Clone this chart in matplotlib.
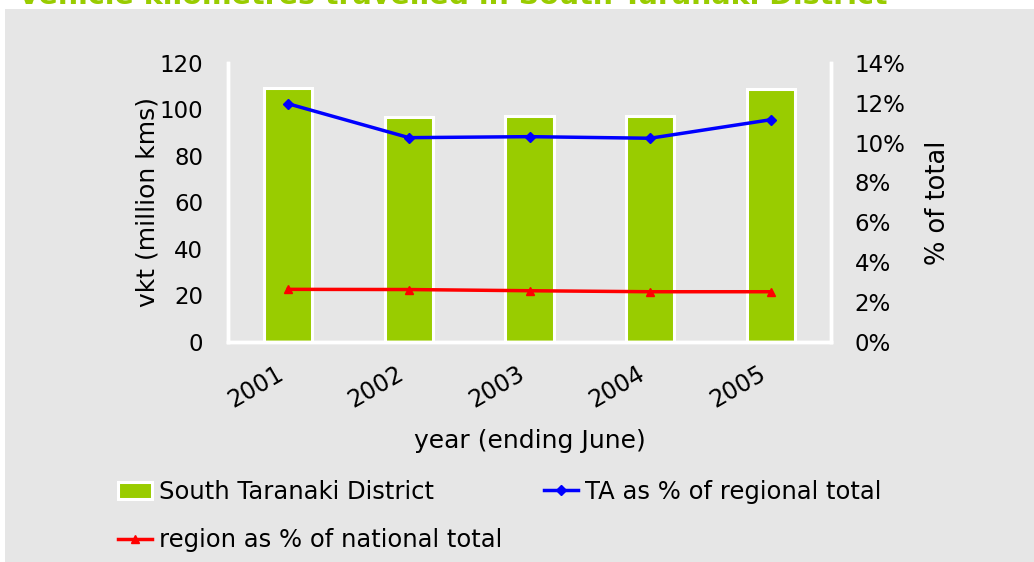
import numpy as np
import matplotlib.pyplot as plt
from matplotlib.patches import Rectangle
from matplotlib.ticker import PercentFormatter
from matplotlib.transforms import ScaledTranslation

years = ["2001", "2002", "2003", "2004", "2005"]
vkt = [109.2, 96.6, 97.1, 97.1, 108.8]
ta_pct = [11.95, 10.25, 10.3, 10.22, 11.15]
region_pct = [2.63, 2.62, 2.56, 2.51, 2.51]

green = "#99cc00"
bg = "#e6e6e6"
fs_tick = 16.5
fs_lab = 18
fs_leg = 17.5

plt.rcParams['font.family'] = ['DejaVu Sans']

fig = plt.figure(figsize=(10.34, 5.62), dpi=100)
fig.patch.set_facecolor("white")
fig.patches.append(Rectangle((5 / 1034, 0), 1, (562 - 9) / 562, transform=fig.transFigure,
                             facecolor=bg, edgecolor="none", zorder=-10))

# title is cut off at the top, as in the source picture
fig.text(18 / 1034, 1 - 4 / 562, "Vehicle kilometres travelled in South Taranaki District",
         color=green, fontsize=20.5, fontweight="bold", ha="left", va="baseline")

ax = fig.add_axes([228 / 1034, (562 - 341.7) / 562, (831 - 228) / 1034, (341.7 - 63) / 562])
ax.set_facecolor(bg)
x = np.arange(len(years))
ax.bar(x, vkt, width=0.4, color=green, edgecolor="white", linewidth=2.2,
       label="South Taranaki District")
ax.set_ylim(0, 120)
ax.set_xlim(-0.5, 4.5)
ax.set_yticks(np.arange(0, 121, 20))
ax.set_xticks(x)
ax.set_xticklabels(years, rotation=30, ha="right", rotation_mode="anchor")
ax.tick_params(axis="both", length=0, labelsize=fs_tick)
ax.tick_params(axis="x", labelsize=17)
ax.tick_params(axis="y", pad=18)
ax.tick_params(axis="x", pad=10)
# nudge the slanted year labels (after tick_params, which resets transforms)
offset = ScaledTranslation(-13 / 100, -6 / 100, fig.dpi_scale_trans)
for lbl in ax.xaxis.get_majorticklabels():
    lbl.set_transform(lbl.get_transform() + offset)
ax.spines["top"].set_visible(False)
for s in ["left", "bottom", "right"]:
    ax.spines[s].set_color("white")
    ax.spines[s].set_linewidth(2.5)
ax.set_ylabel("vkt (million kms)", fontsize=fs_lab, labelpad=0)
ax.set_xlabel("year (ending June)", fontsize=fs_lab, labelpad=12)

ax2 = ax.twinx()
ax2.plot(x, ta_pct, color="#0000ff", linewidth=2.5, marker="D", markersize=5,
         label="TA as % of regional total")
ax2.plot(x, region_pct, color="#ff0000", linewidth=2.5, marker="^", markersize=6,
         label="region as % of national total")
ax2.set_ylim(0, 14)
ax2.set_yticks(np.arange(0, 15, 2))
ax2.yaxis.set_major_formatter(PercentFormatter(decimals=0))
ax2.tick_params(axis="y", length=0, labelsize=fs_tick, pad=17)
ax2.spines["top"].set_visible(False)
for s in ["left", "bottom", "right"]:
    ax2.spines[s].set_color("white")
    ax2.spines[s].set_linewidth(2.5)
ax2.set_ylabel("% of total", fontsize=18.5, labelpad=14)

h1, l1 = ax.get_legend_handles_labels()
h2, l2 = ax2.get_legend_handles_labels()
# order so that column 1 = bar, region ; column 2 = TA
handles = [h1[0], h2[1], h2[0]]
labels = [l1[0], l2[1], l2[0]]
fig.legend(handles, labels, loc="upper left", bbox_to_anchor=(96 / 1034, 1 - 458 / 562),
           ncol=2, frameon=False, fontsize=fs_leg, handlelength=1.4, handletextpad=0.3,
           columnspacing=1.7, labelspacing=1.0)

fig.savefig("out.png", dpi=100, facecolor=fig.get_facecolor())
